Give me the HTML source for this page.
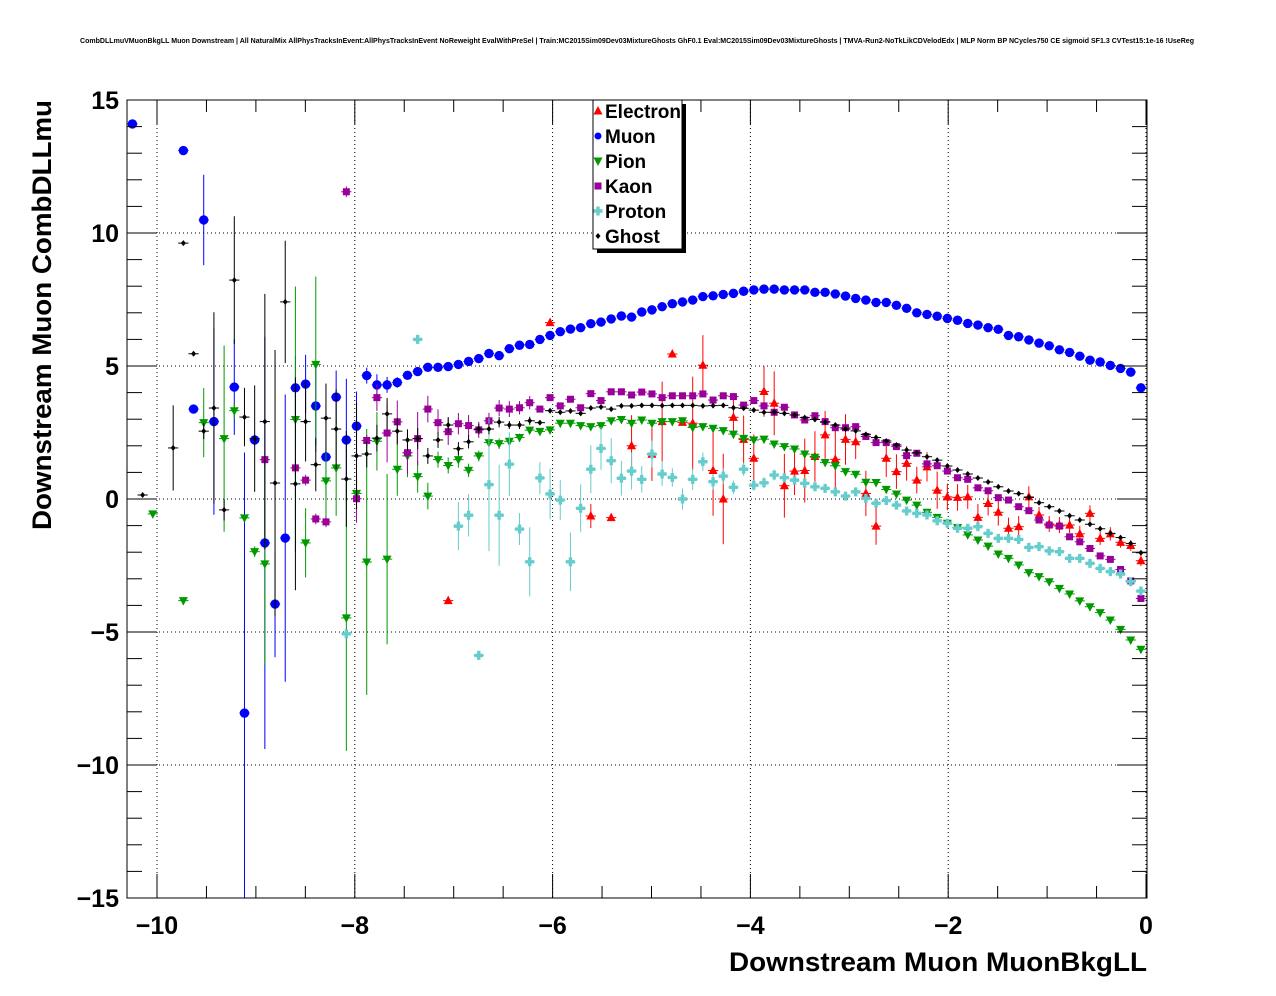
<!DOCTYPE html>
<html><head><meta charset="utf-8"><style>
body{margin:0;background:#fff;}
svg{display:block;font-family:"Liberation Sans",sans-serif;}
</style></head><body>
<svg id="chart" width="1276" height="996" viewBox="0 0 1276 996" xmlns="http://www.w3.org/2000/svg">
<rect width="1276" height="996" fill="#fff"/>
<text x="637" y="43" font-size="7" font-weight="bold" text-anchor="middle" textLength="1114" lengthAdjust="spacingAndGlyphs">CombDLLmuVMuonBkgLL Muon Downstream | All NaturalMix AllPhysTracksInEvent:AllPhysTracksInEvent NoReweight EvalWithPreSel | Train:MC2015Sim09Dev03MixtureGhosts GhF0.1 Eval:MC2015Sim09Dev03MixtureGhosts | TMVA-Run2-NoTkLikCDVelodEdx | MLP Norm BP NCycles750 CE sigmoid SF1.3 CVTest15:1e-16 !UseReg</text>
<g id="grid"></g>
<g id="marks"></g>
<rect x="127" y="100" width="1020" height="798" fill="none" stroke="#000" stroke-width="1"/>
<g id="axes"></g>
<text x="1147" y="971" font-size="27" font-weight="bold" text-anchor="end" textLength="418" lengthAdjust="spacingAndGlyphs">Downstream Muon MuonBkgLL</text>
<text transform="translate(51,100) rotate(-90)" font-size="27" font-weight="bold" text-anchor="end" textLength="430" lengthAdjust="spacingAndGlyphs">Downstream Muon CombDLLmu</text>
<g>
<rect x="597" y="104" width="89" height="149" fill="#000"/>
<rect x="593" y="100" width="89" height="149" fill="#fff" stroke="#000" stroke-width="1"/>
<g id="legend-entries"></g>
</g>
</svg>
<script>
const _ = null;
const binLow = -10.3, binWidth = 0.103, nBins = 100;
const tickLabelsX = ["\u221210","\u22128","\u22126","\u22124","\u22122","0"];
const tickValuesX = [-10,-8,-6,-4,-2,0];
const tickLabelsY = ["\u221215","\u221210","\u22125","0","5","10","15"];
const tickValuesY = [-15,-10,-5,0,5,10,15];
const seriesNames = ["Electron","Muon","Pion","Kaon","Proton","Ghost"];

const electronY = [
_,_,_,_,_,_,_,_,_,_,
_,_,_,_,_,_,_,_,_,_,
_,_,_,_,_,_,_,_,_,_,
_,-3.82,_,_,_,_,_,_,_,_,
_,6.63,_,_,_,-0.64,_,-0.70,_,2.0,
_,1.68,2.91,5.45,2.88,2.85,5.03,1.07,0.0,3.07,
2.24,1.53,4.04,3.60,0.5,1.05,1.07,1.6,2.41,1.49,
2.24,2.15,0.21,-1.02,1.53,1.03,1.34,0.71,1.21,0.33,
0.08,0.06,0.08,-0.69,-0.17,-0.50,-1.10,-1.04,0.08,-0.60,
-0.94,-0.98,-0.98,-1.31,-0.54,-1.48,-1.31,-1.63,-1.75,-2.32];
const electronErr = [
0,0,0,0,0,0,0,0,0,0, 0,0,0,0,0,0,0,0,0,0, 0,0,0,0,0,0,0,0,0,0, 0,0.1,0,0,0,0,0,0,0,0,
0,0.1,0,0,0,0.45,0,0.1,0,1.15,
0,1.0,1.5,0.1,0.1,1.75,1.13,1.7,1.7,0.8,
0.9,0.9,0.95,1.2,1.2,0.9,1.2,0.95,0.9,1.15,
0.95,0.65,0.85,0.7,0.7,0.65,0.65,0.5,0.55,0.7,
0.5,0.5,0.45,0.5,0.45,0.5,0.4,0.4,0.4,0.3,
0.3,0.3,0.3,0.3,0.3,0.25,0.25,0.2,0.2,0.2];

const muonY = [
14.1,_,_,_,_,13.1,3.38,10.49,2.91,_,
4.21,-8.05,2.22,-1.65,-3.95,-1.47,4.18,4.32,3.5,1.58,
3.83,2.22,2.74,4.64,4.29,4.29,4.38,4.65,4.79,4.95,
4.95,4.98,5.06,5.17,5.28,5.47,5.39,5.65,5.78,5.81,
6.0,6.15,6.29,6.39,6.44,6.59,6.65,6.77,6.88,6.84,
7.03,7.11,7.23,7.34,7.41,7.48,7.61,7.64,7.69,7.73,
7.81,7.86,7.89,7.89,7.86,7.86,7.86,7.77,7.77,7.71,
7.63,7.54,7.48,7.39,7.39,7.28,7.17,7.00,6.94,6.87,
6.79,6.72,6.60,6.54,6.44,6.38,6.15,6.10,5.98,5.86,
5.76,5.61,5.51,5.37,5.22,5.15,5.02,4.91,4.77,4.18];
const muonErr = [
0,0,0,0,0,0,0,1.7,3.5,0,
1.8,9.8,0.2,7.75,2.0,5.4,1.2,1.1,1.5,1.6,
1.0,2.3,1.3,0.3,0.4,0.3,0.2,0.1,0.1,0.1];

const pionY = [
_,_,-0.56,_,_,-3.82,_,2.87,_,2.27,
3.32,-0.71,-1.98,-2.44,_,_,2.99,-1.65,5.06,0.68,
1.17,-4.47,0.21,-2.37,2.17,-2.26,1.12,1.62,0.84,0.11,
1.48,1.26,1.48,1.08,1.62,2.12,2.08,2.17,2.31,2.59,
2.54,2.60,2.85,2.85,2.76,2.72,2.76,2.94,2.99,2.85,
2.97,2.85,2.91,2.91,2.94,2.69,2.72,2.66,2.57,2.44,
2.28,2.22,2.25,2.07,1.97,1.88,1.69,1.57,1.37,1.25,
1.03,0.93,0.63,0.62,0.36,0.19,-0.04,-0.23,-0.50,-0.69,
-0.91,-1.07,-1.35,-1.54,-1.77,-2.07,-2.23,-2.48,-2.77,-2.92,
-3.11,-3.36,-3.57,-3.83,-4.05,-4.27,-4.55,-4.90,-5.30,-5.65];
const pionErr = [
0,0,0,0,0,0,0,1.3,0,3.5,
0.3,0,0.2,3.8,0,0,5.0,1.3,3.3,1.4,
1.8,5.0,0.6,5.0,1.1,3.2,1.0,0.8,0.6,0.5,
0.3,0.3,0.3,0.25,0.2,0.2,0.2,0.15,0.15,0.1];

const kaonY = [
_,_,_,_,_,_,_,_,_,_,
_,_,_,1.48,_,_,1.17,0.71,-0.75,-0.86,
_,11.55,0.01,2.2,3.81,2.48,2.9,1.74,2.27,3.38,
2.87,2.53,2.83,2.76,2.60,2.94,3.42,3.38,3.43,3.62,
3.38,3.81,3.50,3.75,3.43,3.96,3.70,4.03,4.03,3.91,
4.02,3.95,3.81,3.88,3.88,3.88,3.95,3.72,3.88,3.85,
3.53,3.70,3.50,3.26,3.45,3.16,2.97,3.13,2.91,2.68,
2.68,2.72,2.35,2.12,2.12,1.97,1.63,1.72,1.32,1.25,
1.05,0.80,0.74,0.42,0.31,0.05,-0.04,-0.29,-0.44,-0.79,
-0.98,-1.02,-1.42,-1.61,-1.86,-2.14,-2.27,-2.65,-3.08,-3.74];
const kaonErr = [
0,0,0,0,0,0,0,0,0,0,
0,0,0,0.3,0,0,0.3,0.2,0.2,0.2,
0,0.2,0.9,0.2,0.5,1.1,0.8,0.8,1.0,0.5,
0.5,0.5,0.4,0.4,0.3,0.3,0.3,0.3,0.25,0.25];

const protonY = [
_,_,_,_,_,_,_,_,_,_,
_,_,_,_,_,_,_,_,_,_,
_,-5.07,_,_,_,_,_,_,6.0,_,
_,_,-1.02,-0.61,-5.88,0.54,-0.61,1.31,-1.13,-2.36,
0.79,0.19,-0.04,-2.36,-0.35,1.12,1.90,1.44,0.78,1.05,
0.74,1.69,0.94,0.81,0.00,0.74,1.40,0.65,0.86,0.44,
1.12,0.52,0.61,0.90,0.80,0.71,0.59,0.46,0.40,0.27,
0.11,0.27,0.02,-0.16,-0.06,-0.23,-0.45,-0.54,-0.60,-0.82,
-0.91,-1.10,-1.10,-1.04,-1.29,-1.48,-1.48,-1.52,-1.82,-1.79,
-1.95,-1.98,-2.23,-2.23,-2.42,-2.61,-2.73,-2.82,-3.11,-3.46];
const protonErr = [
0,0,0,0,0,0,0,0,0,0, 0,0,0,0,0,0,0,0,0,0,
0,0,0,0,0,0,0,0,0,0,
0,0,0.9,0.8,0,2.5,1.9,1.2,0.6,1.3,
0.6,0.95,0.75,1.1,0.9,0.9,0.8,0.85,0.65,0.7,
0.5,0.5,0.45,0.35,0.4,0.4,0.35,0.3,0.3,0.25,
0.25,0.2,0.2,0.2,0.15,0.15,0.15,0.15,0.15,0.15];

const ghostY = [
_,0.15,_,_,1.92,9.62,5.46,2.55,3.42,-0.41,
8.23,3.08,2.27,2.91,0.6,7.41,0.57,2.91,1.29,3.04,
2.63,0.75,1.62,1.69,2.29,3.2,2.55,2.22,2.27,1.62,
2.22,2.78,1.89,2.15,2.63,2.63,2.89,2.78,2.78,2.94,
2.87,3.32,3.26,3.31,3.22,3.42,3.46,3.38,3.50,3.50,
3.52,3.52,3.51,3.52,3.52,3.52,3.50,3.51,3.52,3.43,
3.41,3.34,3.26,3.26,3.22,3.16,3.06,2.99,2.89,2.78,
2.63,2.56,2.43,2.31,2.18,2.03,1.84,1.74,1.59,1.46,
1.24,1.09,0.94,0.79,0.64,0.46,0.30,0.20,0.06,-0.14,
-0.29,-0.45,-0.63,-0.79,-0.95,-1.12,-1.29,-1.45,-1.67,-2.02];
const ghostErr = [
0,0,0,0,1.6,0,0,0.3,3.6,0.4,
2.4,1.1,2.0,4.8,5.0,2.3,4.0,1.5,1.0,1.3,
1.5,1.8,2.0,0.5,0.5,0.6,0.5,0.4,0.4,0.3,
0.3,0.3,0.25,0.25,0.2,0.2,0.2,0.15,0.15,0.15];

// axes
const X0 = 157, XS = 98.9, Y0 = 499, YS = 26.6;
const PL = 127, PR = 1147, PT = 100, PB = 898;
function xPx(v){ return X0 + (v + 10) * XS; }
function yPx(v){ return Y0 - v * YS; }
function binCenter(i){ return binLow + binWidth * (i + 0.5); }

const NS = "http://www.w3.org/2000/svg";
function mk(tag, attrs, parent){
  const e = document.createElementNS(NS, tag);
  for (const k in attrs) e.setAttribute(k, attrs[k]);
  parent.appendChild(e);
  return e;
}
const grid = document.getElementById('grid');
const axes = document.getElementById('axes');
const marks = document.getElementById('marks');

tickValuesX.forEach(v => {
  const l = mk('line', {x1:xPx(v), x2:xPx(v), y1:PT, y2:PB, stroke:'#000', 'stroke-width':1, 'stroke-dasharray':'1,3'}, grid);
  
  
});
tickValuesY.forEach(v => {
  if (v <= -15 || v >= 15) return;
  const l = mk('line', {x1:PL, x2:PR, y1:yPx(v), y2:yPx(v), stroke:'#000', 'stroke-width':1, 'stroke-dasharray':'1,3'}, grid);
  
  
});

for (let v = -10; v <= 0.001; v += 0.5) {
  const major = Math.abs(v / 2 - Math.round(v / 2)) < 0.01;
  const len = major ? 24 : 12;
  const x = xPx(v);
  const t1 = mk('line', {x1:x, x2:x, y1:PB, y2:PB - len, stroke:'#000'}, axes);
  
  
  const t2 = mk('line', {x1:x, x2:x, y1:PT, y2:PT + len, stroke:'#000'}, axes);
  
  
}
for (let v = -15; v <= 15; v += 1) {
  const major = v % 5 === 0;
  const len = major ? 30 : 15;
  const y = yPx(v);
  const t1 = mk('line', {x1:PL, x2:PL + len, y1:y, y2:y, stroke:'#000'}, axes);
  
  
  const t2 = mk('line', {x1:PR, x2:PR - len, y1:y, y2:y, stroke:'#000'}, axes);
  
  
}
tickValuesX.forEach((v, i) => {
  const t = mk('text', {x:xPx(v), y:934, 'font-size':25, 'font-weight':'bold', 'text-anchor':'middle'}, axes);
  t.textContent = tickLabelsX[i];
  
  
});
tickValuesY.forEach((v, i) => {
  const t = mk('text', {x:119, y:yPx(v) + 9, 'font-size':25, 'font-weight':'bold', 'text-anchor':'end'}, axes);
  t.textContent = tickLabelsY[i];
  
  
});

function marker(kind, x, y, color, parent){
  let e;
  if (kind === 'tri-up') e = mk('polygon', {points:`${x},${y-5} ${x-4.5},${y+3.5} ${x+4.5},${y+3.5}`, fill:color}, parent);
  else if (kind === 'circle') e = mk('circle', {cx:x, cy:y, r:4.7, fill:color}, parent);
  else if (kind === 'tri-down') e = mk('polygon', {points:`${x},${y+5} ${x-4.5},${y-3.5} ${x+4.5},${y-3.5}`, fill:color}, parent);
  else if (kind === 'square') e = mk('rect', {x:x-3.5, y:y-3.5, width:7, height:7, fill:color}, parent);
  else if (kind === 'cross') e = mk('path', {d:`M${x-1.7},${y-4.5}h3.4v2.8h2.8v3.4h-2.8v2.8h-3.4v-2.8h-2.8v-3.4h2.8z`, fill:color}, parent);
  else e = mk('path', {d:`M${x},${y-3}L${x+2.5},${y}L${x},${y+3}L${x-2.5},${y}z`, fill:color}, parent);
  return e;
}

const seriesDefs = [
  {name:'electron', y:electronY, err:electronErr, color:'#ff0000', kind:'tri-up'},
  {name:'muon', y:muonY, err:muonErr, color:'#0000ff', kind:'circle'},
  {name:'pion', y:pionY, err:pionErr, color:'#009900', kind:'tri-down'},
  {name:'kaon', y:kaonY, err:kaonErr, color:'#990099', kind:'square'},
  {name:'proton', y:protonY, err:protonErr, color:'#66cccc', kind:'cross'},
  {name:'ghost', y:ghostY, err:ghostErr, color:'#000000', kind:'diamond'}
];

const clip = mk('clipPath', {id:'pc'}, document.getElementById('chart'));
mk('rect', {x:PL, y:PT, width:PR - PL, height:PB - PT}, clip);
marks.setAttribute('clip-path', 'url(#pc)');

seriesDefs.forEach(s => {
  const g = mk('g', {}, marks);
  
  
  for (let i = 0; i < nBins; i++) {
    const v = s.y[i];
    if (v === null || v === undefined) continue;
    const xc = xPx(binCenter(i));
    const xl = xPx(binLow + binWidth * i), xr = xPx(binLow + binWidth * (i + 1));
    const yc = yPx(v);
    const e = s.err[i] || 0;
    const h = mk('line', {x1:xl, x2:xr, y1:yc, y2:yc, stroke:s.color, 'stroke-width':1}, g);
    
    
    if (e > 0) {
      const ve = mk('line', {x1:xc, x2:xc, y1:yPx(v + e), y2:yPx(v - e), stroke:s.color, 'stroke-width':1}, g);
      
      
    }
    const m = marker(s.kind, xc, yc, s.color, g);
    
    
  }
});

const lg = document.getElementById('legend-entries');
seriesDefs.forEach((s, i) => {
  const cy = 111 + i * 25;
  const m = marker(s.kind, 598, cy, s.color, lg);
  if (s.kind === 'circle') m.setAttribute('r', 3.5);
  
  
  const t = mk('text', {x:605, y:cy + 7, 'font-size':19, 'font-weight':'bold'}, lg);
  t.textContent = seriesNames[i];
  
  
});
</script>
</body></html>
